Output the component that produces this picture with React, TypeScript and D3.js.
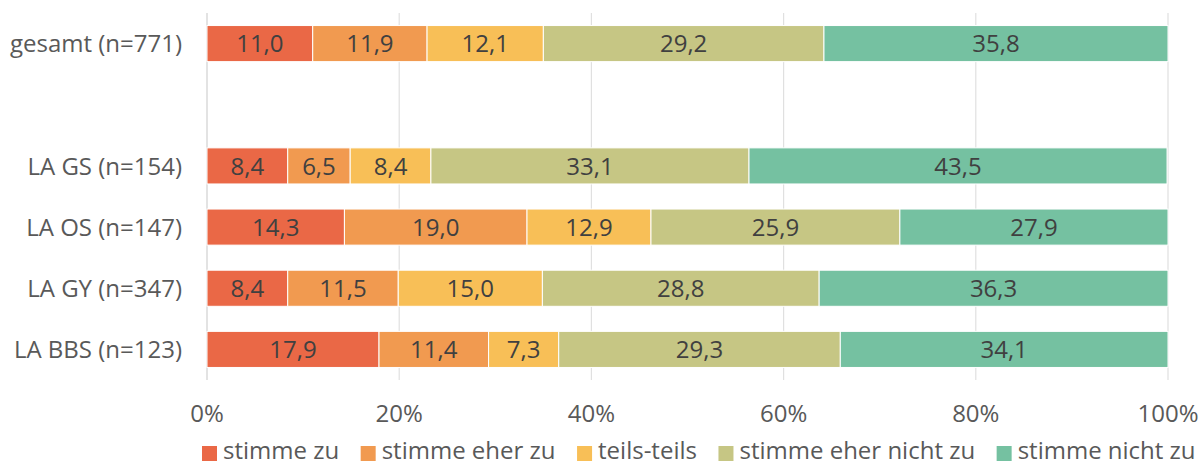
import React, { useEffect, useRef } from "react";
import * as d3 from "d3";

const groups = ["gesamt (n=771)", "", "LA GS (n=154)", "LA OS (n=147)", "LA GY (n=347)", "LA BBS (n=123)"];
const answers = ["stimme zu", "stimme eher zu", "teils-teils", "stimme eher nicht zu", "stimme nicht zu"];
const colors = ["#EA6846", "#F19A50", "#F8BF57", "#C6C684", "#75C1A1"];
const stimmeZu = [11.0, null, 8.4, 14.3, 8.4, 17.9];
const eherZu = [11.9, null, 6.5, 19.0, 11.5, 11.4];
const teils = [12.1, null, 8.4, 12.9, 15.0, 7.3];
const eherNicht = [29.2, null, 33.1, 25.9, 28.8, 29.3];
const nichtZu = [35.8, null, 43.5, 27.9, 36.3, 34.1];
const ticks = [0, 20, 40, 60, 80, 100];

export default function App() {
  const ref = useRef<SVGSVGElement>(null);

  useEffect(() => {
    const root = d3.select(ref.current);
    root.selectAll("*").remove();
    const svg = root.append("g");
    const font = "'Open Sans', sans-serif";
    const textColor = "#404040";
    const labelColor = "#595959";
    const fs = 24;
    const left = 207, right = 1168, top = 13, bottom = 380;

    const x = d3.scaleLinear().domain([0, 100]).range([left, right]);
    const y = d3.scaleBand().domain(groups.map((g, i) => String(i))).range([top, bottom]).paddingInner(0.41).paddingOuter(0.205);

    const series = [stimmeZu, eherZu, teils, eherNicht, nichtZu];

    // grid
    svg.append("g").selectAll("line").data(ticks).enter().append("line")
      .attr("x1", d => x(d)).attr("x2", d => x(d))
      .attr("y1", top).attr("y2", bottom)
      .attr("stroke", d => d === 0 ? "#d0d0d0" : "#e0e0e0").attr("stroke-width", 1.2);

    groups.forEach((g, i) => {
      if (stimmeZu[i] == null) return;
      let acc = 0;
      const row = svg.append("g");
      series.forEach((s, k) => {
        const v = s[i] as number;
        row.append("rect")
          .attr("x", x(acc)).attr("width", x(acc + v) - x(acc))
          .attr("y", y(String(i))!).attr("height", y.bandwidth())
          .attr("fill", colors[k]).attr("stroke", "#fff").attr("stroke-width", 1);
        row.append("text")
          .attr("x", x(acc + v / 2)).attr("y", y(String(i))! + y.bandwidth() / 2)
          .attr("dy", "0.36em").attr("text-anchor", "middle")
          .attr("font-family", font).attr("font-size", fs).attr("fill", textColor)
          .text(v.toFixed(1).replace(".", ","));
        acc += v;
      });
      svg.append("text")
        .attr("x", left - 25).attr("y", y(String(i))! + y.bandwidth() / 2)
        .attr("dy", "0.36em").attr("text-anchor", "end")
        .attr("font-family", font).attr("font-size", fs).attr("fill", labelColor)
        .text(g);
    });

    svg.append("g").selectAll("text").data(ticks).enter().append("text")
      .attr("x", d => x(d)).attr("y", 422)
      .attr("text-anchor", "middle")
      .attr("font-family", font).attr("font-size", fs).attr("fill", labelColor)
      .text(d => d + "%");

    // legend
    const leg = svg.append("g");
    let lx = 202;
    answers.forEach((a, k) => {
      leg.append("rect").attr("x", lx).attr("y", 446).attr("width", 15).attr("height", 15).attr("fill", colors[k]);
      const t = leg.append("text").attr("x", lx + 21).attr("y", 459)
        .attr("font-family", font).attr("font-size", fs).attr("fill", labelColor).text(a);
      lx += 21 + (t.node() as SVGTextElement).getComputedTextLength() + 21.5;
    });
  }, []);

  return <svg ref={ref} width={1201} height={466} style={{ position: "absolute", left: 0, top: 0 }}></svg>;
}
